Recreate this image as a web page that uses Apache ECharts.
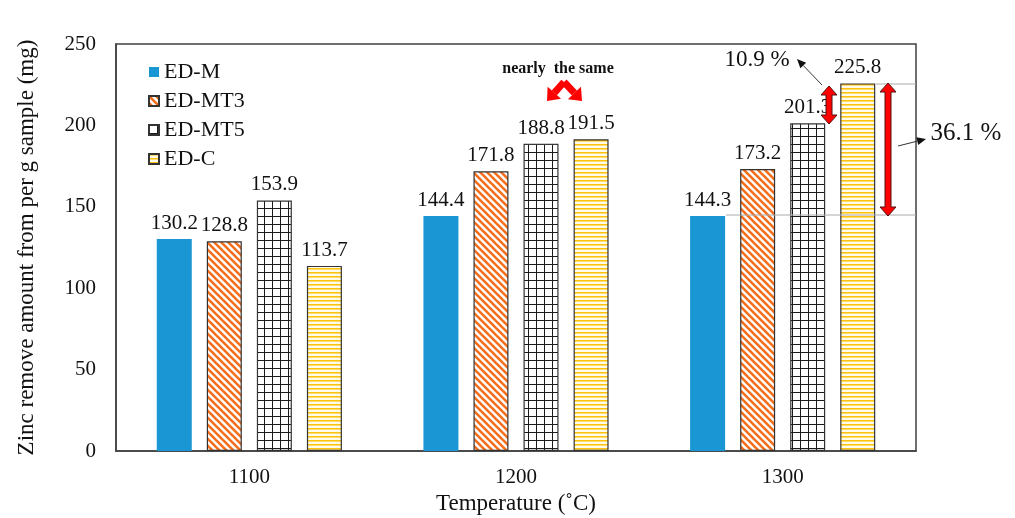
<!DOCTYPE html>
<html>
<head>
<meta charset="utf-8">
<script src="https://cdn.jsdelivr.net/npm/echarts@6/dist/echarts.min.js"></script>
<style>
  html, body { margin: 0; padding: 0; background: #fff; }
  #chart { width: 1015px; height: 518px; }
</style>
</head>
<body>
<div id="chart"></div>
<script>
const temperatures = ['1100', '1200', '1300'];
const edM   = [130.2, 144.4, 144.3];
const edMT3 = [128.8, 171.8, 173.2];
const edMT5 = [153.9, 188.8, 201.3];
const edC   = [113.7, 191.5, 225.8];

const FONT = '"Liberation Serif", "Times New Roman", serif';

// small canvases used as fill patterns
function makePattern(w, h, draw) {
    const c = document.createElement('canvas');
    c.width = w; c.height = h;
    const ctx = c.getContext('2d');
    ctx.fillStyle = '#fff';
    ctx.fillRect(0, 0, w, h);
    draw(ctx);
    return { image: c, repeat: 'repeat' };
}

const diagPattern = makePattern(7, 7, ctx => {
    ctx.strokeStyle = '#f36f1c';
    ctx.lineWidth = 2.6;
    for (let k = -7; k <= 7; k += 7) {
        ctx.beginPath();
        ctx.moveTo(k - 1, -1);
        ctx.lineTo(k + 8, 8);
        ctx.stroke();
    }
});

const gridPattern = makePattern(8, 8, ctx => {
    ctx.fillStyle = '#1a1a1a';
    ctx.fillRect(0, 0, 8, 1);
    ctx.fillRect(0, 0, 1, 8);
});

const stripePattern = makePattern(4, 4, ctx => {
    ctx.fillStyle = '#ffc20e';
    ctx.fillRect(0, 0, 4, 1);
    ctx.fillStyle = '#ffdc70';
    ctx.fillRect(0, 1, 4, 1);
    ctx.fillStyle = '#fffbea';
    ctx.fillRect(0, 2, 4, 2);
});

function barSeries(name, data, color, border) {
    return {
        name: name,
        type: 'bar',
        data: data,
        barWidth: 35,
        barGap: '43%',
        itemStyle: {
            color: color,
            borderColor: border ? '#333' : null,
            borderWidth: border ? 1.2 : 0
        },
        label: {
            show: true,
            position: 'top',
            distance: 5,
            color: '#111',
            fontFamily: FONT,
            fontSize: 21
        }
    };
}

const chart = echarts.init(document.getElementById('chart'));

chart.setOption({
    animation: false,
    grid: {
        left: 116, right: 99, top: 44, bottom: 67,
        outerBoundsMode: 'none',
        show: true, borderColor: '#404040', borderWidth: 1.5
    },
    legend: {
        orient: 'vertical',
        left: 143,
        top: 56,
        itemWidth: 10,
        itemHeight: 10,
        itemGap: 7,
        icon: 'rect',
        textStyle: { fontFamily: FONT, fontSize: 22, color: '#111' },
        data: ['ED-M', 'ED-MT3', 'ED-MT5', 'ED-C']
    },
    xAxis: {
        type: 'category',
        data: temperatures,
        name: 'Temperature (˚C)',
        nameLocation: 'middle',
        nameGap: 38,
        nameTextStyle: { fontFamily: FONT, fontSize: 23, color: '#111' },
        axisTick: { show: false },
        axisLine: { lineStyle: { color: '#404040', width: 1.5 } },
        axisLabel: { fontFamily: FONT, fontSize: 21, color: '#111', margin: 16 }
    },
    yAxis: {
        type: 'value',
        min: 0,
        max: 250,
        interval: 50,
        name: 'Zinc remove amount from per g sample (mg)',
        nameLocation: 'middle',
        nameGap: 78,
        nameTextStyle: { fontFamily: FONT, fontSize: 23, color: '#111' },
        axisLine: { show: true, lineStyle: { color: '#404040', width: 1.5 } },
        axisTick: { show: false },
        splitLine: { show: false },
        axisLabel: { fontFamily: FONT, fontSize: 21, color: '#111', margin: 20 }
    },
    series: [
        barSeries('ED-M', edM, '#1a96d4', false),
        barSeries('ED-MT3', edMT3, diagPattern, true),
        barSeries('ED-MT5', edMT5, gridPattern, true),
        barSeries('ED-C', edC, stripePattern, true)
    ]
});

// annotations
function doubleArrow(x, y1, y2) {
    const s = 3, hw = 8, hl = 9;
    return {
        type: 'polygon',
        z: 100,
        shape: { points: [
            [x, y1], [x + hw, y1 + hl], [x + s, y1 + hl], [x + s, y2 - hl], [x + hw, y2 - hl],
            [x, y2], [x - hw, y2 - hl], [x - s, y2 - hl], [x - s, y1 + hl], [x - hw, y1 + hl]
        ] },
        style: { fill: '#ff0000', stroke: '#551111', lineWidth: 1 }
    };
}

function thinArrow(x1, y1, x2, y2) {
    const a = Math.atan2(y2 - y1, x2 - x1), L = 9, W = 4;
    const bx = x2 - L * Math.cos(a), by = y2 - L * Math.sin(a);
    const px = -Math.sin(a) * W, py = Math.cos(a) * W;
    return [
        { type: 'line', z: 100, shape: { x1: x1, y1: y1, x2: bx, y2: by }, style: { stroke: '#333', lineWidth: 1 } },
        { type: 'polygon', z: 100, shape: { points: [[x2, y2], [bx + px, by + py], [bx - px, by - py]] }, style: { fill: '#111' } }
    ];
}

function chevronArm(x1, y1, x2, y2) {
    const a = Math.atan2(y2 - y1, x2 - x1), L = 11, W = 9;
    const bx = x2 - L * Math.cos(a), by = y2 - L * Math.sin(a);
    const px = -Math.sin(a) * W, py = Math.cos(a) * W;
    return [
        { type: 'line', z: 100, shape: { x1: x1, y1: y1, x2: bx, y2: by }, style: { stroke: '#ff0000', lineWidth: 7 } },
        { type: 'polygon', z: 100, shape: { points: [[x2, y2], [bx + px, by + py], [bx - px, by - py]] }, style: { fill: '#ff0000' } }
    ];
}

const textStyle = (t, x, y, size, weight) => ({
    type: 'text', z: 100, x: x, y: y,
    style: { text: t, fontFamily: FONT, fontSize: size, fontWeight: weight || 'normal', fill: '#111', align: 'center', verticalAlign: 'middle' }
});

chart.setOption({
    graphic: [
        { type: 'line', z: 90, shape: { x1: 876, y1: 84, x2: 916, y2: 84 }, style: { stroke: '#aaa', lineWidth: 1 } },
        { type: 'line', z: 90, shape: { x1: 726, y1: 215, x2: 916, y2: 215 }, style: { stroke: '#aaa', lineWidth: 1 } },
        doubleArrow(829, 86, 124),
        doubleArrow(888, 83, 216),
        ...thinArrow(822, 85, 797, 59),
        ...thinArrow(898, 146, 926, 139),
        textStyle('10.9 %', 757, 60, 23),
        textStyle('36.1 %', 966, 133, 25),
        textStyle('nearly  the same', 558, 69, 16, 'bold'),
        ...chevronArm(564, 82, 547, 101),
        ...chevronArm(564, 82, 582, 101)
    ]
});
</script>
</body>
</html>
